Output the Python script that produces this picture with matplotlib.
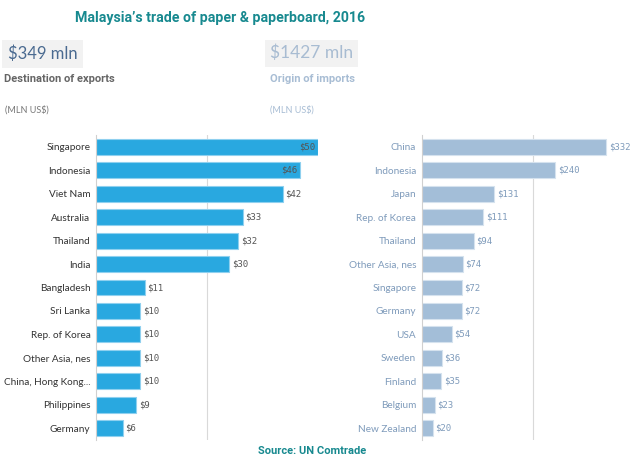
import matplotlib
matplotlib.use("Agg")
import matplotlib.pyplot as plt

# exports (destination)
exp_countries = ["Singapore", "Indonesia", "Viet Nam", "Australia", "Thailand", "India",
                 "Bangladesh", "Sri Lanka", "Rep. of Korea", "Other Asia, nes",
                 "China, Hong Kong...", "Philippines", "Germany"]
exp_values = [50, 46, 42, 33, 32, 30, 11, 10, 10, 10, 10, 9, 6]

# imports (origin)
imp_countries = ["China", "Indonesia", "Japan", "Rep. of Korea", "Thailand", "Other Asia, nes",
                 "Singapore", "Germany", "USA", "Sweden", "Finland", "Belgium", "New Zealand"]
imp_values = [332, 240, 131, 111, 94, 74, 72, 72, 54, 36, 35, 23, 20]

exp_total = "$349 mln"
imp_total = "$1427 mln"

fig = plt.figure(figsize=(6.4, 4.66), dpi=100)
plt.rcParams['font.family'] = ['Lato', 'DejaVu Sans']

narrow = ['Roboto', 'DejaVu Sans']


def draw_panel(ax, names, vals, xmax, grid, bar_col, edge_col, lab_col, val_col):
    y = range(len(names))
    ax.barh(y, vals, height=0.68, color=bar_col, edgecolor=edge_col, linewidth=0.8, zorder=2)
    ax.set_xlim(0, xmax)
    ax.set_ylim(len(names) - 0.5, -0.5)
    ax.set_yticks(list(y))
    ax.set_yticklabels(names, fontsize=7.2, color=lab_col)
    ax.tick_params(axis='y', length=0, pad=4)
    ax.set_xticks([])
    ax.axvline(grid, color='#d9d9d9', lw=0.8, zorder=1)
    for s in ['top', 'right', 'bottom']:
        ax.spines[s].set_visible(False)
    ax.spines['left'].set_color('#d0d0d0')
    for i, v in enumerate(vals):
        if v > 0.88 * xmax:
            ax.text(v - xmax * 0.012, i, f"${v}", ha='right', va='center', fontsize=6.5,
                    family='DejaVu Sans Mono', color='#555555', zorder=3)
        else:
            ax.text(v + xmax * 0.012, i, f"${v}", ha='left', va='center', fontsize=6.5,
                    family='DejaVu Sans Mono', color=val_col, zorder=3)


ax1 = fig.add_axes([0.15, 0.056, 0.347, 0.654])
draw_panel(ax1, exp_countries, exp_values, 50, 25, '#29a8e0', '#8fd0ef', '#333333', '#555555')

ax2 = fig.add_axes([0.659, 0.056, 0.347, 0.654])
draw_panel(ax2, imp_countries, imp_values, 400, 200, '#a3bed8', '#d5e2ee', '#7f9bbb', '#7f9bbb')

# title & headers
fig.text(0.344, 0.961, "Malaysia\u2019s trade of paper & paperboard, 2016", ha='center', va='center',
         fontsize=10.2, fontweight='bold', color='#17898f', family=narrow)

fig.text(0.012, 0.884, exp_total, ha='left', va='center', fontsize=12, color='#4a6a90',
         bbox=dict(boxstyle='square,pad=0.35', fc='#f2f2f2', ec='none'))
fig.text(0.422, 0.886, imp_total, ha='left', va='center', fontsize=12.5, color='#a8bcd2',
         bbox=dict(boxstyle='square,pad=0.3', fc='#f2f2f2', ec='none'))

fig.text(0.006, 0.83, "Destination of exports", ha='left', va='center', fontsize=8,
         fontweight='bold', color='#666666', family=narrow)
fig.text(0.422, 0.83, "Origin of imports", ha='left', va='center', fontsize=8,
         fontweight='bold', color='#a8bdd4', family=narrow)

fig.text(0.008, 0.764, "(MLN US$)", ha='left', va='center', fontsize=6.5, color='#777777')
fig.text(0.422, 0.764, "(MLN US$)", ha='left', va='center', fontsize=6.5, color='#a8bdd4')

fig.text(0.488, 0.032, "Source: UN Comtrade", ha='center', va='center', fontsize=8,
         fontweight='bold', color='#17898f', family=narrow)

fig.savefig("out.png", dpi=100, facecolor='white')
